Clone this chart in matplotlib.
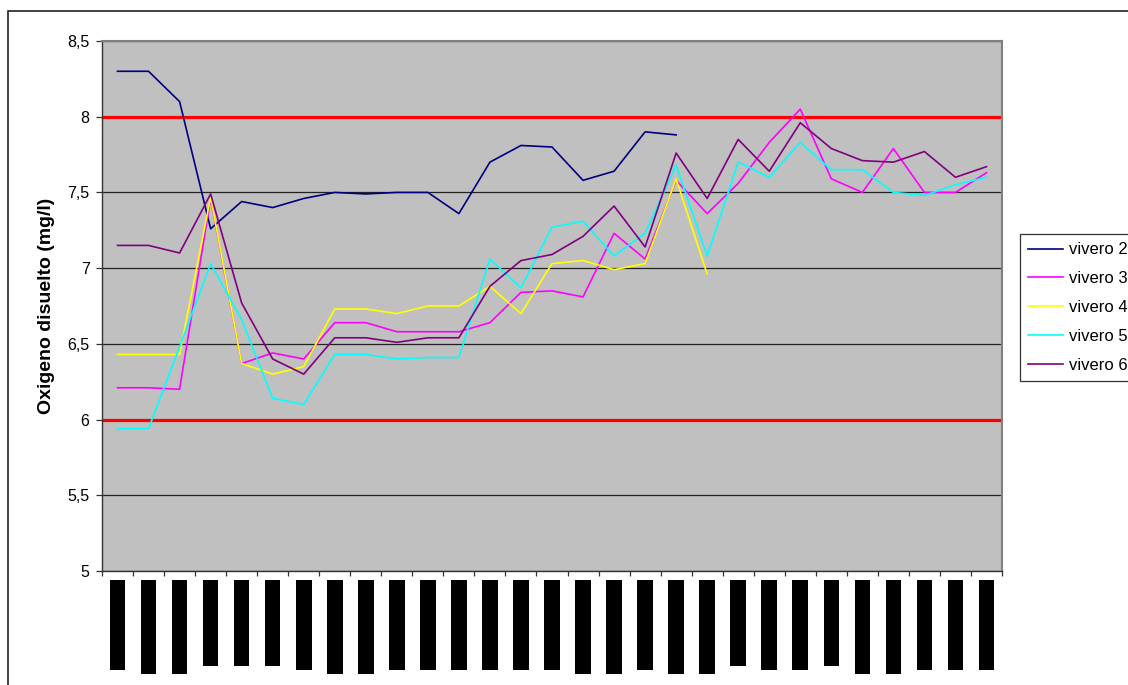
import numpy as np
import matplotlib
matplotlib.use("Agg")
import matplotlib.pyplot as plt
from matplotlib.patches import Rectangle
from matplotlib.ticker import FixedLocator, FixedFormatter

plt.rcParams['font.family'] = ['Liberation Sans', 'DejaVu Sans']

nan = np.nan
# Series values (mg/l) per sampling date
vivero2 = [8.30, 8.30, 8.10, 7.26, 7.44, 7.40, 7.46, 7.50, 7.49, 7.50, 7.50, 7.36, 7.70, 7.81, 7.80,
           7.58, 7.64, 7.90, 7.88, nan, nan, nan, nan, nan, nan, nan, nan, nan, nan]
vivero3 = [6.21, 6.21, 6.20, 7.46, 6.37, 6.44, 6.40, 6.64, 6.64, 6.58, 6.58, 6.58, 6.64, 6.84, 6.85,
           6.81, 7.23, 7.06, 7.58, 7.36, 7.56, 7.83, 8.05, 7.59, 7.50, 7.79, 7.50, 7.50, 7.63]
vivero4 = [6.43, 6.43, 6.43, 7.47, 6.37, 6.30, 6.35, 6.73, 6.73, 6.70, 6.75, 6.75, 6.88, 6.70, 7.03,
           7.05, 6.99, 7.03, 7.59, 6.96, nan, nan, nan, nan, nan, nan, nan, nan, nan]
vivero5 = [5.94, 5.94, 6.48, 7.03, 6.66, 6.14, 6.10, 6.43, 6.43, 6.40, 6.41, 6.41, 7.06, 6.87, 7.27,
           7.31, 7.08, 7.23, 7.68, 7.08, 7.70, 7.60, 7.83, 7.65, 7.65, 7.50, 7.48, 7.55, 7.60]
vivero6 = [7.15, 7.15, 7.10, 7.49, 6.77, 6.40, 6.30, 6.54, 6.54, 6.51, 6.54, 6.54, 6.88, 7.05, 7.09,
           7.21, 7.41, 7.14, 7.76, 7.46, 7.85, 7.64, 7.96, 7.79, 7.71, 7.70, 7.77, 7.60, 7.67]

series_names = ['vivero 2', 'vivero 3', 'vivero 4', 'vivero 5', 'vivero 6']
series_colors = ['#000080', '#FF00FF', '#FFFF00', '#00FFFF', '#800080']

# date labels render as solid black blocks in the reference
date_labels = ['\u2588' * n for n in [19, 20, 20, 18, 18, 18, 19, 20, 20, 19, 19, 19, 19, 19, 19,
                                        20, 20, 19, 20, 20, 18, 19, 19, 18, 20, 20, 19, 19, 19]]

limit_low = 6.0
limit_high = 8.0

ytick_values = [5, 5.5, 6, 6.5, 7, 7.5, 8, 8.5]
ytick_labels = ['5', '5,5', '6', '6,5', '7', '7,5', '8', '8,5']

fig = plt.figure(figsize=(11.28, 6.85), dpi=100)
ax = fig.add_axes([102/1128, 1 - 571/685, 900/1128, 530/685])
ax.set_facecolor('#C0C0C0')

x = np.arange(len(vivero3))

ax.set_axisbelow(True)
ax.yaxis.grid(True, color='#222222', linewidth=0.9)

for vals, name, col in zip([vivero2, vivero3, vivero4, vivero5, vivero6], series_names, series_colors):
    ax.plot(x, vals, color=col, linewidth=1.2, label=name, zorder=3)

ax.axhline(limit_low, color='#FF0000', linewidth=2.3, zorder=2.5, xmax=0.997)
ax.axhline(limit_high, color='#FF0000', linewidth=2.3, zorder=2.5, xmax=0.997)

ax.set_xlim(-0.5, len(x) - 0.5)
ax.set_ylim(5, 8.5)
ax.yaxis.set_major_locator(FixedLocator(ytick_values))
ax.yaxis.set_major_formatter(FixedFormatter(ytick_labels))
ax.tick_params(axis='y', labelsize=11.5, length=4, width=0.9, color='#333333', pad=5)

ax.set_xticks(x)
ax.set_xticklabels(date_labels, rotation=90, fontsize=4, family='DejaVu Sans', color='black')
for lab in ax.get_xticklabels():
    lab.set_bbox(dict(boxstyle='square,pad=0.85', facecolor='black', edgecolor='none'))
ax.set_xticks(np.arange(-0.5, len(x), 1.0), minor=True)
ax.tick_params(axis='x', which='major', length=0, pad=9.9)
ax.tick_params(axis='x', which='minor', length=3.5, width=0.9, color='#333333')

ax.set_ylabel('Oxigeno disuelto (mg/l)', fontsize=14, fontweight='bold')
ax.yaxis.set_label_coords(-0.052, 0.5)

for side in ['top', 'right']:
    ax.spines[side].set_color('#808080')
    ax.spines[side].set_linewidth(1.5)
for side in ['left', 'bottom']:
    ax.spines[side].set_color('#333333')
    ax.spines[side].set_linewidth(1.0)

leg = fig.legend(loc='upper left', bbox_to_anchor=(1020/1128, 1 - 234/685),
                 frameon=True, fancybox=False, edgecolor='black', fontsize=12,
                 handlelength=2.1, handletextpad=0.35, labelspacing=0.83,
                 borderpad=0.5, borderaxespad=0)
leg.get_frame().set_linewidth(0.9)

# outer chart-area border
fig.patches.append(Rectangle((8/1128, -0.2), 1.2, 1 - 11/685 + 0.2, transform=fig.transFigure,
                             fill=False, edgecolor='#222222', linewidth=1.2))

fig.savefig('out.png', dpi=100)
